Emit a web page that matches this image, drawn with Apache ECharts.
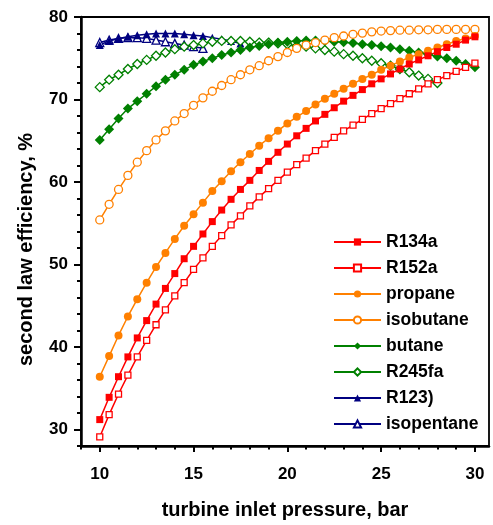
<!DOCTYPE html>
<html><head><meta charset="utf-8">
<script src="https://cdn.jsdelivr.net/npm/echarts@6/dist/echarts.min.js"></script>
<style>html,body{margin:0;padding:0;background:#fff}#c{width:493px;height:525px}</style>
</head><body><div id="c"></div>
<script>
// turbine inlet pressure, bar
const pressure = [10,10.5,11,11.5,12,12.5,13,13.5,14,14.5,15,15.5,16,16.5,17,17.5,18,18.5,19,19.5,20,20.5,21,21.5,22,22.5,23,23.5,24,24.5,25,25.5,26,26.5,27,27.5,28,28.5,29,29.5,30];
const pressureR245fa = [10,10.5,11,11.5,12,12.5,13,13.5,14,14.5,15,15.5,16,16.5,17,17.5,18,18.5,19,19.5,20,20.5,21,21.5,22,22.5,23,23.5,24,24.5,25,25.5,26,26.5,27,27.5,28];
const pressureR123 = [10,10.5,11,11.5,12,12.5,13,13.5,14,14.5,15,15.5,16,16.5,17,17.5];
const pressureIsopentane = [10,10.5,11,11.5,12,12.5,13,13.5,14,14.5,15,15.5];

// second law efficiency, %
const R134a = [31.2,33.9,36.4,38.8,41.1,43.2,45.2,47.1,48.9,50.7,52.2,53.7,55.2,56.6,57.9,59.1,60.2,61.4,62.5,63.6,64.6,65.6,66.5,67.4,68.2,69.0,69.8,70.5,71.2,71.9,72.5,73.1,73.7,74.3,74.8,75.3,75.8,76.3,76.7,77.2,77.6];
const R152a = [29.1,31.8,34.3,36.6,38.8,40.8,42.7,44.5,46.2,47.8,49.4,50.8,52.2,53.5,54.8,55.9,57.1,58.2,59.2,60.2,61.2,62.1,62.9,63.8,64.6,65.4,66.2,66.9,67.6,68.3,68.9,69.5,70.1,70.7,71.3,71.9,72.4,72.9,73.4,73.9,74.4];
const propane = [36.4,38.9,41.4,43.7,45.8,47.8,49.7,51.4,53.1,54.7,56.1,57.5,58.9,60.1,61.3,62.4,63.4,64.4,65.3,66.2,67.1,67.9,68.6,69.4,70.1,70.7,71.3,71.9,72.5,73.0,73.6,74.1,74.6,75.1,75.5,75.9,76.3,76.7,77.1,77.4,77.7];
const isobutane = [55.4,57.3,59.1,60.8,62.4,63.8,65.1,66.2,67.4,68.3,69.3,70.2,71.0,71.7,72.4,73.0,73.6,74.1,74.7,75.2,75.7,76.2,76.6,76.9,77.2,77.5,77.7,77.9,78.05,78.2,78.3,78.35,78.4,78.4,78.45,78.45,78.5,78.5,78.5,78.5,78.5];
const butane = [65.1,66.4,67.7,68.9,69.8,70.7,71.6,72.4,73.0,73.6,74.2,74.6,75.0,75.4,75.7,76.0,76.3,76.5,76.7,76.9,77.0,77.1,77.15,77.15,77.1,77.0,76.95,76.85,76.7,76.6,76.45,76.3,76.1,75.9,75.7,75.5,75.2,75.0,74.7,74.3,73.9];
const R245fa = [71.5,72.4,73.0,73.7,74.3,74.8,75.3,75.7,76.1,76.4,76.6,76.8,77.0,77.1,77.1,77.1,77.0,76.9,76.9,76.8,76.7,76.5,76.4,76.2,76.0,75.8,75.5,75.3,75.0,74.7,74.4,74.1,73.7,73.3,72.9,72.5,72.0];
const R123 = [76.6,77.1,77.4,77.6,77.8,77.9,78.0,78.0,78.0,77.9,77.8,77.7,77.5,77.3,77.1,76.8];
const isopentane = [76.9,77.2,77.4,77.5,77.5,77.4,77.2,77.0,76.8,76.6,76.4,76.2];

// ticks
const xTickLabels = [10,15,20,25,30];
const xMinorTicks = [9,10,11,12,13,14,15,16,17,18,19,20,21,22,23,24,25,26,27,28,29,30];
const yTickLabels = [30,40,50,60,70,80];
const yMinorTicks = [28,30,32,34,36,38,40,42,44,46,48,50,52,54,56,58,60,62,64,66,68,70,72,74,76,78,80];

const FONT = 'Liberation Sans, Arial, sans-serif';
const RED = '#ff0000', ORANGE = '#ff8000', GREEN = '#008000', NAVY = '#000080';

function mk(name, xs, ys, color, symbol, filled, size) {
  return {
    name: name, type: 'line', data: xs.map((x, i) => [x, ys[i]]),
    symbol: symbol, symbolSize: size, showAllSymbol: true,
    lineStyle: { color: color, width: 1.5 },
    itemStyle: { color: filled ? color : '#ffffff', borderColor: color, borderWidth: filled ? 0 : 1.3 },
    emphasis: { disabled: true }, animation: false
  };
}

const chart = echarts.init(document.getElementById('c'), null, { renderer: 'canvas' });
const axisCommonX = { type: 'value', min: 9, max: 30.75, gridIndex: 0, splitLine: { show: false } };
const axisCommonY = { type: 'value', min: 28, max: 80, gridIndex: 0, splitLine: { show: false } };
chart.setOption({
  animation: false,
  grid: { left: 81, top: 17, right: 4, bottom: 73, show: true, borderColor: '#000', borderWidth: 1.8, backgroundColor: 'transparent' },
  xAxis: [
    Object.assign({}, axisCommonX, {
      position: 'bottom',
      name: 'turbine inlet pressure, bar', nameLocation: 'middle', nameGap: 54,
      nameTextStyle: { fontFamily: FONT, fontWeight: 'bold', fontSize: 20, color: '#000' },
      axisLine: { show: true, lineStyle: { color: '#000', width: 2.5 } },
      axisTick: { show: true, inside: false, length: 6, lineStyle: { color: '#000', width: 2 }, customValues: xTickLabels },
      axisLabel: { show: true, margin: 20, fontFamily: FONT, fontWeight: 'bold', fontSize: 17, color: '#000', customValues: xTickLabels }
    }),
    Object.assign({}, axisCommonX, {
      position: 'bottom',
      axisLine: { show: false },
      axisTick: { show: true, inside: false, length: 3.5, lineStyle: { color: '#000', width: 2 }, customValues: xMinorTicks },
      axisLabel: { show: false }
    })
  ],
  yAxis: [
    Object.assign({}, axisCommonY, {
      position: 'left',
      name: 'second law efficiency, %', nameLocation: 'middle', nameGap: 45,
      nameTextStyle: { fontFamily: FONT, fontWeight: 'bold', fontSize: 20, color: '#000', padding: [0, 36, 0, 0] },
      axisLine: { show: true, lineStyle: { color: '#000', width: 2.5 } },
      axisTick: { show: true, inside: false, length: 7, lineStyle: { color: '#000', width: 2 }, customValues: yTickLabels },
      axisLabel: { show: true, margin: 13, fontFamily: FONT, fontWeight: 'bold', fontSize: 17, color: '#000', customValues: yTickLabels }
    }),
    Object.assign({}, axisCommonY, {
      position: 'left',
      axisLine: { show: false },
      axisTick: { show: true, inside: false, length: 4, lineStyle: { color: '#000', width: 2 }, customValues: yMinorTicks },
      axisLabel: { show: false }
    })
  ],
  legend: {
    orient: 'vertical', left: 328, top: 228, padding: 5, itemGap: 8, itemWidth: 47, itemHeight: 9,
    textStyle: { fontFamily: FONT, fontWeight: 'bold', fontSize: 17.5, color: '#000' },
    selectedMode: false,
    data: ['R134a', 'R152a', 'propane', 'isobutane', 'butane', 'R245fa', 'R123)', 'isopentane']
  },
  series: [
    mk('isopentane', pressureIsopentane, isopentane, NAVY, 'triangle', false, 8),
    mk('R123)', pressureR123, R123, NAVY, 'triangle', true, 8),
    mk('R245fa', pressureR245fa, R245fa, GREEN, 'diamond', false, 9),
    mk('butane', pressure, butane, GREEN, 'diamond', true, 10),
    mk('isobutane', pressure, isobutane, ORANGE, 'circle', false, 8),
    mk('propane', pressure, propane, ORANGE, 'circle', true, 8),
    mk('R152a', pressure, R152a, RED, 'rect', false, 6),
    mk('R134a', pressure, R134a, RED, 'rect', true, 7)
  ]
});
</script>
</body></html>
